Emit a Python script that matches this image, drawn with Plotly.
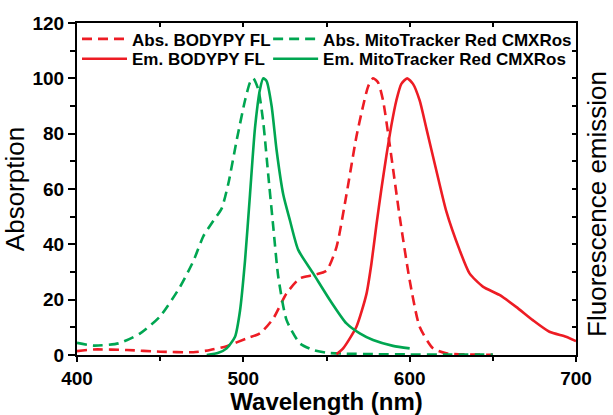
import plotly.graph_objects as go

RED = "#ED1C24"
GREEN = "#00A651"

abs_red_x = [400, 410, 430, 450, 470, 480, 490, 502, 510, 518, 526, 534, 542, 550, 556, 562, 568, 572, 575, 578, 581, 584, 588, 594, 600, 606, 614, 622, 635, 650]
abs_red_y = [1.4, 2.0, 1.8, 1.2, 1.0, 1.8, 3.2, 6.0, 7.8, 13.2, 22.3, 27.7, 28.9, 30.5, 39, 58, 79, 90, 97, 100, 98.5, 92, 76, 50, 27, 10.2, 2.4, 0.6, 0.2, 0.1]

em_red_x = [556, 560, 568, 574, 577, 580, 583, 586, 589, 592, 595, 598.5, 602, 606, 610, 616, 622, 630, 636, 644, 654, 664, 674, 684, 694, 700]
em_red_y = [0.3, 2.4, 10.2, 22, 33, 47, 60, 72, 83, 92, 98, 100, 98, 92, 82, 66.8, 52, 38, 29.5, 24.7, 21.7, 17.4, 12.6, 8.4, 6.6, 5.0]

abs_green_x = [400, 410, 425, 438, 450, 462, 470, 476, 482, 487, 491, 496, 501, 504, 506, 509, 512, 515, 518, 521, 526, 534, 542, 550, 560, 580, 600, 620, 650]
abs_green_y = [4.4, 3.4, 4.2, 7.8, 14, 24.7, 34, 43, 48.5, 53, 62, 77.6, 92, 98.5, 100, 96, 84, 65, 46.3, 28.3, 12.6, 4.2, 1.8, 0.8, 0.5, 0.3, 0.2, 0.2, 0.2]

em_green_x = [478, 485, 490, 495, 498, 501, 504, 507, 510, 512, 514, 517, 520, 524, 528, 533, 542, 552, 562, 570, 578, 590, 600]
em_green_y = [0, 0.8, 2.4, 6.6, 16, 34, 58, 82, 96, 100, 99, 90, 74, 58, 48.7, 38, 29.5, 19.9, 11.4, 7.8, 5.4, 3.3, 2.4]

FONT = "Liberation Sans, Arial, sans-serif"
DASH = "10px,6px"
LW = 2.6

fig = go.Figure()
fig.add_trace(go.Scatter(x=abs_red_x, y=abs_red_y, mode="lines", name="Abs. BODYPY FL",
                         line=dict(color=RED, width=LW, dash=DASH, shape="spline", smoothing=0.6),
                         legend="legend"))
fig.add_trace(go.Scatter(x=abs_green_x, y=abs_green_y, mode="lines", name="Abs. MitoTracker Red CMXRos",
                         line=dict(color=GREEN, width=LW, dash=DASH, shape="spline", smoothing=0.6),
                         legend="legend2"))
fig.add_trace(go.Scatter(x=em_red_x, y=em_red_y, mode="lines", name="Em. BODYPY FL",
                         line=dict(color=RED, width=LW, shape="spline", smoothing=0.6),
                         xaxis="x2", yaxis="y2", legend="legend3"))
fig.add_trace(go.Scatter(x=em_green_x, y=em_green_y, mode="lines", name="Em. MitoTracker Red CMXRos",
                         line=dict(color=GREEN, width=LW, shape="spline", smoothing=0.6),
                         xaxis="x2", yaxis="y2", legend="legend4"))

tickfont = dict(family=FONT, size=19, color="black", weight="bold")
common = dict(showgrid=False, zeroline=False, linecolor="black", linewidth=2, tickcolor="black",
              tickwidth=2, automargin=False)

legend_common = dict(orientation="v", bgcolor="rgba(0,0,0,0)", borderwidth=0,
                     font=dict(family=FONT, size=17, color="black", weight="bold"),
                     xanchor="left", yanchor="top", itemwidth=45)

COL1, COL2 = 0.0, 0.383
ROW1, ROW2 = 1.005, 0.945

fig.update_layout(
    width=613, height=415,
    margin=dict(l=77, r=37, t=23, b=60),
    plot_bgcolor="white", paper_bgcolor="white",
    font=dict(family=FONT, color="black"),
    showlegend=True,
    xaxis=dict(range=[400, 700], tick0=400, dtick=100, ticks="outside", ticklen=5,
               tickfont=tickfont, minor=dict(ticks="outside", dtick=50, ticklen=4, tickwidth=2, tickcolor="black"),
               title=dict(text="Wavelength (nm)", font=dict(family=FONT, size=24, weight="bold"), standoff=6),
               **common),
    xaxis2=dict(range=[400, 700], overlaying="x", side="top", tick0=400, dtick=50, ticks="inside", ticklen=4,
                showticklabels=False, **common),
    yaxis=dict(range=[0, 120], tick0=0, dtick=20, ticks="outside", ticklen=7,
               tickfont=tickfont, minor=dict(ticks="outside", dtick=10, ticklen=5, tickwidth=2, tickcolor="black"),
               title=dict(text="Absorption", font=dict(family=FONT, size=26), standoff=3),
               **common),
    yaxis2=dict(range=[0, 120], overlaying="y", side="right", tick0=0, dtick=10, ticks="inside", ticklen=4,
                showticklabels=False, **common),
    legend=dict(x=COL1, y=ROW1, **legend_common),
    legend2=dict(x=COL2, y=ROW1, **legend_common),
    legend3=dict(x=COL1, y=ROW2, **legend_common),
    legend4=dict(x=COL2, y=ROW2, **legend_common),
    annotations=[dict(text="Fluorescence emission", textangle=-90, xref="paper", yref="paper",
                      x=1.042, y=0.455, xanchor="center", yanchor="middle", showarrow=False,
                      font=dict(family=FONT, size=26, color="black"))],
)

fig.write_html("out.html")
